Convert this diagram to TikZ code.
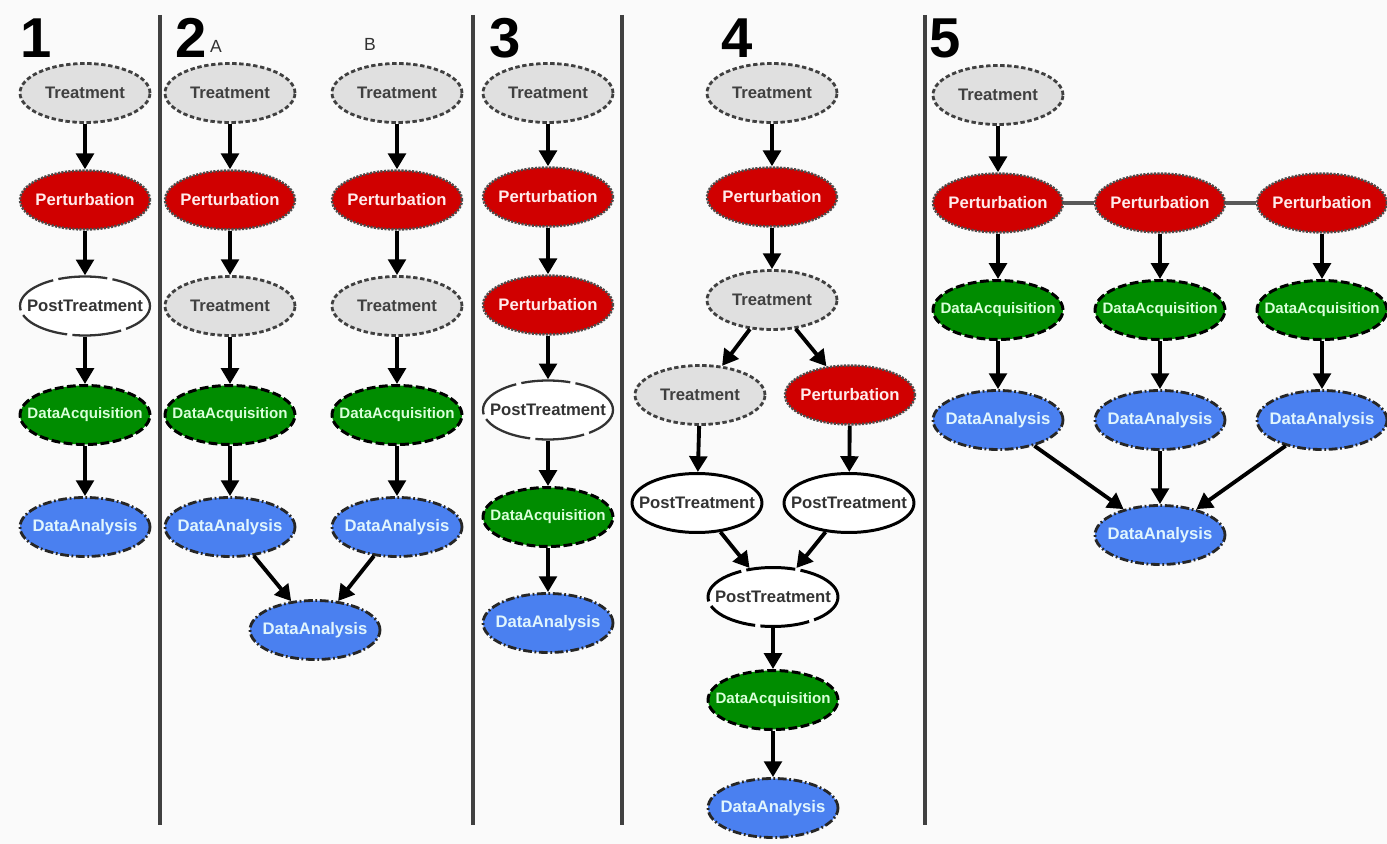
\documentclass[tikz,border=0pt]{standalone}
\usepackage{fontspec}
\setmainfont{Liberation Sans}
\usetikzlibrary{shapes.geometric,arrows.meta}
\definecolor{bgcol}{HTML}{FAFAFA}
\definecolor{treatfill}{HTML}{E0E0E0}
\definecolor{perturbfill}{HTML}{D00000}
\definecolor{acqfill}{HTML}{008C00}
\definecolor{analfill}{HTML}{4A80F0}
\newcommand\tx[1]{\makebox[0pt]{#1}}
\tikzset{
  box/.style={ellipse, minimum width=2.6cm, minimum height=1.18cm, inner sep=0pt,
    font=\fontsize{9.5}{9.5}\selectfont\bfseries},
  treat/.style={box, fill=treatfill, draw=black!75, line width=1.6pt,
    dash pattern=on 2.5pt off 1.5pt, text=black!75},
  perturb/.style={box, fill=perturbfill, draw=black!70, line width=1.4pt,
    dash pattern=on 1.2pt off 0.8pt, text=red!8},
  postt/.style={box, fill=white, draw=black!80, line width=1.3pt,
    dash pattern=on 28pt off 3pt, text=black!80},
  acq/.style={box, fill=acqfill, draw=black, line width=1.7pt,
    dash pattern=on 5pt off 2pt, text=green!15,
    font=\fontsize{8.6}{8.6}\selectfont\bfseries},
  anal/.style={box, fill=analfill, draw=black!85, line width=1.6pt,
    dash pattern=on 5pt off 1.5pt on 1pt off 1.5pt, text=cyan!12},
  arr/.style={-{Triangle[length=9pt,width=10pt]}, line width=2.2pt, black},
  sep/.style={line width=1.8pt, black!75},
  num/.style={font=\fontsize{32}{32}\selectfont\bfseries, inner sep=0pt},
  sub/.style={font=\fontsize{10}{10}\selectfont, inner sep=0pt, text=black!80}
}
\begin{document}
\begin{tikzpicture}[x=0.02cm, y=-0.02cm]
  \fill[bgcol] (0,0) rectangle (1387,844);
  \useasboundingbox (0,0) rectangle (1387,844);
  % panel separators
  \draw[sep] (160,15) -- (160,825);
  \draw[sep] (473,15) -- (473,825);
  \draw[sep] (622,15) -- (622,825);
  \draw[sep] (925,15) -- (925,825);
  % panel numbers
  \node[num] (n1) at (36,38) {1};
  \node[num] (n2) at (191,38) {2};
  \node[sub] (na) at (216,46) {A};
  \node[sub] (nb) at (370,44) {B};
  \node[num] (n3) at (505,38) {3};
  \node[num] (n4) at (737,38) {4};
  \node[num] (n5) at (945,38) {5};
  % panel 1
  \node[treat] (a1) at (85,93) {\tx{Treatment}};
  \node[perturb] (a2) at (85,200) {\tx{Perturbation}};
  \node[postt] (a3) at (85,306) {\tx{PostTreatment}};
  \node[acq] (a4) at (85,415) {\tx{DataAcquisition}};
  \node[anal] (a5) at (85,527) {\tx{DataAnalysis}};
  % panel 2
  \node[treat] (b1) at (230,93) {\tx{Treatment}};
  \node[perturb] (b2) at (230,200) {\tx{Perturbation}};
  \node[treat] (b3) at (230,306) {\tx{Treatment}};
  \node[acq] (b4) at (230,415) {\tx{DataAcquisition}};
  \node[anal] (b5) at (230,527) {\tx{DataAnalysis}};
  \node[treat] (c1) at (397,93) {\tx{Treatment}};
  \node[perturb] (c2) at (397,200) {\tx{Perturbation}};
  \node[treat] (c3) at (397,306) {\tx{Treatment}};
  \node[acq] (c4) at (397,415) {\tx{DataAcquisition}};
  \node[anal] (c5) at (397,527) {\tx{DataAnalysis}};
  \node[anal] (b6) at (315,630) {\tx{DataAnalysis}};
  % panel 3
  \node[treat] (d1) at (548,93) {\tx{Treatment}};
  \node[perturb] (d2) at (548,197) {\tx{Perturbation}};
  \node[perturb] (d3) at (548,305) {\tx{Perturbation}};
  \node[postt] (d4) at (548,410) {\tx{PostTreatment}};
  \node[acq] (d5) at (548,517) {\tx{DataAcquisition}};
  \node[anal] (d6) at (548,623) {\tx{DataAnalysis}};
  % panel 4
  \node[treat] (e1) at (772,93) {\tx{Treatment}};
  \node[perturb] (e2) at (772,197) {\tx{Perturbation}};
  \node[treat] (e3) at (772,300) {\tx{Treatment}};
  \node[treat] (e4) at (700,395) {\tx{Treatment}};
  \node[perturb] (e5) at (850,395) {\tx{Perturbation}};
  \node[postt, line width=1.7pt, draw=black, dash pattern=on 40pt off 0pt] (e6) at (697,503) {\tx{PostTreatment}};
  \node[postt, line width=1.7pt, draw=black, dash pattern=on 40pt off 0pt] (e7) at (849,503) {\tx{PostTreatment}};
  \node[postt, line width=1.7pt, draw=black] (e8) at (773,597) {\tx{PostTreatment}};
  \node[acq] (e9) at (773,700) {\tx{DataAcquisition}};
  \node[anal] (e10) at (773,808) {\tx{DataAnalysis}};
  % panel 5
  \node[treat] (f1) at (998,95) {\tx{Treatment}};
  \node[perturb] (f2) at (998,203) {\tx{Perturbation}};
  \node[perturb] (g2) at (1160,203) {\tx{Perturbation}};
  \node[perturb] (h2) at (1322,203) {\tx{Perturbation}};
  \node[acq] (f3) at (998,310) {\tx{DataAcquisition}};
  \node[acq] (g3) at (1160,310) {\tx{DataAcquisition}};
  \node[acq] (h3) at (1322,310) {\tx{DataAcquisition}};
  \node[anal] (f4) at (998,420) {\tx{DataAnalysis}};
  \node[anal] (g4) at (1160,420) {\tx{DataAnalysis}};
  \node[anal] (h4) at (1322,420) {\tx{DataAnalysis}};
  \node[anal] (g5) at (1160,535) {\tx{DataAnalysis}};
  \begin{scope}[arr]
    \draw (a1) to (a2);
    \draw (a2) to (a3);
    \draw (a3) to (a4);
    \draw (a4) to (a5);
    \draw (b1) to (b2);
    \draw (b2) to (b3);
    \draw (b3) to (b4);
    \draw (b4) to (b5);
    \draw (c1) to (c2);
    \draw (c2) to (c3);
    \draw (c3) to (c4);
    \draw (c4) to (c5);
    \draw (b5) to (b6);
    \draw (c5) to (b6);
    \draw (d1) to (d2);
    \draw (d2) to (d3);
    \draw (d3) to (d4);
    \draw (d4) to (d5);
    \draw (d5) to (d6);
    \draw (e1) to (e2);
    \draw (e2) to (e3);
    \draw (e3) to (e4);
    \draw (e3) to (e5);
    \draw (e4) to (e6);
    \draw (e5) to (e7);
    \draw (e6) to (e8);
    \draw (e7) to (e8);
    \draw (e8) to (e9);
    \draw (e9) to (e10);
    \draw (f1) to (f2);
    \draw (f2) to (f3);
    \draw (g2) to (g3);
    \draw (h2) to (h3);
    \draw (f3) to (f4);
    \draw (g3) to (g4);
    \draw (h3) to (h4);
    \draw (f4) to (g5);
    \draw (g4) to (g5);
    \draw (h4) to (g5);
  \end{scope}
  \begin{scope}[line width=2.5pt, black!65]
    \draw (f2) to (g2);
    \draw (g2) to (h2);
  \end{scope}
\end{tikzpicture}
\end{document}
